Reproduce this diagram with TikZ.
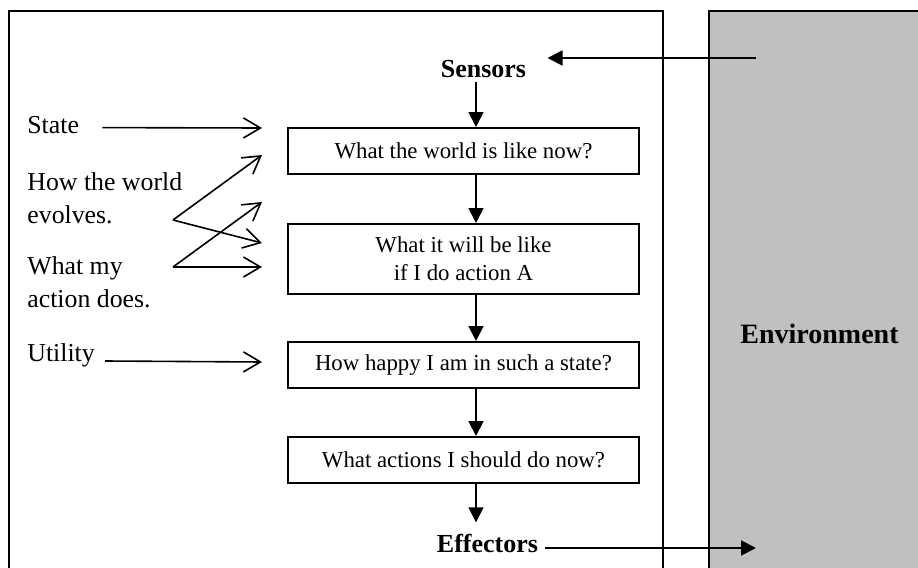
\documentclass[tikz,border=0pt]{standalone}
\usepackage{fontspec}
\setmainfont{Liberation Serif}
\usepackage{tikz}
\usetikzlibrary{positioning,arrows.meta}
\definecolor{envgray}{RGB}{192,192,192}

\begin{document}
\begin{tikzpicture}[x=0.5pt,y=-0.5pt,
    font=\fontsize{11.4}{14}\selectfont,
    box/.style={draw,line width=1pt,minimum width=175.5pt,
        minimum height=23pt,inner sep=0pt,align=center},
    label/.style={inner sep=0pt,align=left,
        font=\fontsize{12.9}{16.5}\selectfont},
    heading/.style={inner sep=2pt,font=\fontsize{13}{15}\selectfont\bfseries},
    flow/.style={line width=0.9pt,-{Triangle[length=7.5pt,width=7.5pt]}},
    feed/.style={line width=0.8pt,-{Straight Barb[length=8.5pt,width=10pt]}}]

\useasboundingbox (0,0) rectangle (918,568);

% Environment block
\fill[envgray] (709,11) rectangle (918,568);
\draw[line width=1pt] (918,11) -- (709,11) -- (709,568);
\node[font=\fontsize{14}{16}\selectfont\bfseries,
    anchor=base
] (env) at (819.5,343) {Environment};

% Agent frame
\draw[line width=1pt] (9,568) -- (9,11) -- (663,11) -- (663,568);

% Sensors and effectors
\node[heading] (sensors) at (483.5,69) {Sensors};
\node[heading,
    anchor=base
] (effectors) at (487.5,552) {Effectors};

% Decision blocks
\node[box] (world) at (463.5,151) {What the world is like now?};

\node[box,
    minimum height=35pt,
    font=\fontsize{11.4}{14}\selectfont,
    below=24pt of world
] (future) {What it will be like\\if I do action A};

\node[box,
    below=23pt of future
] (happy) {How happy I am in such a state?};

\node[box,
    below=23.5pt of happy
] (decide) {What actions I should do now?};

% Knowledge labels
\node[label,anchor=base west] (state) at (27,133) {State};
\node[label,anchor=north west] (evolves) at (27,172) {How the world\\evolves.};
\node[label,anchor=north west] (actdoes) at (27,256) {What my\\action does.};
\node[label,anchor=base west] (utility) at (27,361) {Utility};

\coordinate (spine) at (476,0);
\coordinate (feedcol) at (262,0);
\coordinate (evo) at (173,220);
\coordinate (act) at (173,267);
\coordinate (envsense) at (756,58);
\coordinate (envact) at (756,548);

% Arrows
\draw[flow] (sensors.south -| spine) -- (world.north -| spine);
\draw[flow] (world.south -| spine) -- (future.north -| spine);
\draw[flow] (future.south -| spine) -- (happy.north -| spine);
\draw[flow] (happy.south -| spine) -- (decide.north -| spine);
\draw[flow,shorten >=3.5pt] (decide.south -| spine) -- (effectors.north -| spine);

\draw[flow] (envsense) -- ([xshift=8.5pt]sensors.east |- envsense);
\draw[flow] ([xshift=1.5pt]effectors.east |- envact) -- (envact);

\draw[feed] ([shift={(11.5pt,-1.5pt)}]state.east) -- (feedcol |- 0,128);
\draw[feed] (evo) -- (feedcol |- 0,155);
\draw[feed] (evo) -- (feedcol |- 0,243);
\draw[feed] (act) -- (feedcol |- 0,202);
\draw[feed] (act) -- (feedcol |- 0,267);
\draw[feed] ([xshift=5pt]utility.base east) -- (feedcol |- 0,362);

\end{tikzpicture}
\end{document}
